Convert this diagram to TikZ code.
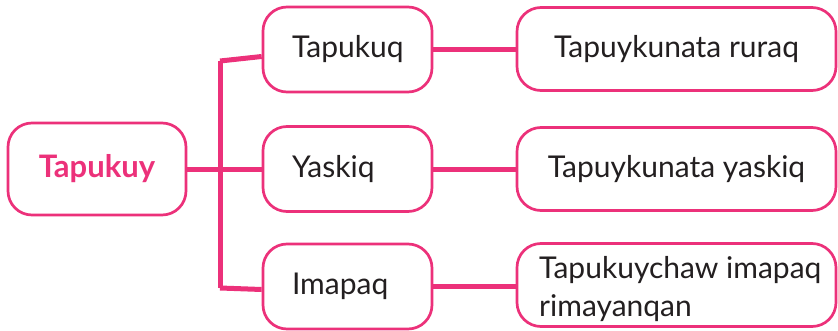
\documentclass[tikz,border=0pt]{standalone}
\usepackage{fontspec}
\setmainfont{Lato}
\usetikzlibrary{calc}
\definecolor{pink}{RGB}{236,49,122}
\definecolor{ink}{RGB}{35,31,32}
\tikzset{
  box/.style={draw=pink, line width=2.7pt, rounded corners=24pt, fill=white, inner sep=0pt},
  tree/.style={draw=pink, line width=5pt},
  txt/.style={font=\fontsize{30}{35}\selectfont, text=ink},
  midbox/.style={box, txt, minimum height=85pt, text width=111pt, inner xsep=29pt, align=left},
  rbox/.style={box, txt, minimum width=319pt, minimum height=83pt}
}
\begin{document}
\begin{tikzpicture}[x=1pt,y=1pt]
\useasboundingbox (0,0) rectangle (838,330);
\node[box, minimum width=178pt, minimum height=92pt, font=\fontsize{31}{35}\selectfont\bfseries, text=pink] (root) at (97,161) {Tapukuy};
\node[midbox] (a) at (347.5,280.5) {Tapukuq};
\node[midbox] (b) at (347.5,161) {Yaskiq};
\node[midbox] (c) at (347.5,43.5) {Imapaq};
\node[rbox] (ra) at (676.5,281) {Tapuykunata ruraq};
\node[rbox] (rb) at (676.5,161) {Tapuykunata yaskiq};
\node[rbox] (rc) at (676.5,45) {};
\node[txt, font=\fontsize{30}{38}\selectfont, align=left, anchor=north west, inner sep=0pt] (rct) at (539,74) {Tapukuychaw imapaq\\rimayanqan};
\coordinate (jt) at (220,269);
\coordinate (jm) at (220,161);
\coordinate (jb) at (220,42);
\draw[tree] (root.east) -- (jm);
\draw[tree] (jt) -- (jb);
\draw[tree] (jt) -- ($(a.west)+(0,-7)$);
\draw[tree] (jm) -- (b.west);
\draw[tree] (jb) -- ($(c.west)+(0,-3)$);
\draw[tree] (a.east) -- (a.east -| ra.west);
\draw[tree] (b.east) -- (b.east -| rb.west);
\draw[tree] (c.east) -- (c.east -| rc.west);
\end{tikzpicture}
\end{document}
